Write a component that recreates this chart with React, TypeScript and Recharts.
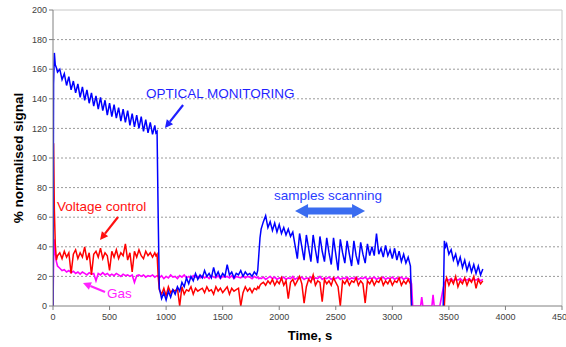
import React from "react";
import { LineChart, Line, XAxis, YAxis, ReferenceLine } from "recharts";

// time, s (shared by the three traces)
const time = [
  0, 5, 12, 20, 30, 40,
  60, 80, 100, 120, 140, 160, 180, 200, 220, 240,
  260, 280, 300, 320, 340, 360, 380, 400, 420, 440,
  460, 480, 500, 520, 540, 560, 580, 600, 620, 640,
  660, 680, 700, 720, 740, 760, 780, 800, 820, 840,
  860, 880, 900, 910, 920, 930,
  940, 960, 980, 1000, 1020, 1040, 1060, 1080, 1100, 1120,
  1140, 1160, 1180, 1200, 1220, 1240, 1260, 1280, 1300, 1320,
  1340, 1360, 1380, 1400, 1420, 1440, 1460, 1480, 1500, 1520,
  1540, 1560, 1580, 1600, 1620, 1640, 1660, 1680, 1700, 1720,
  1740, 1760, 1780, 1800, 1810, 1820, 1830,
  1840, 1860, 1880, 1900, 1920, 1940, 1960, 1980, 2000, 2020,
  2040, 2060, 2080, 2100, 2120, 2140, 2160, 2180, 2200, 2220,
  2240, 2260, 2280, 2300, 2320, 2340, 2360, 2380, 2400, 2420,
  2440, 2460, 2480, 2500, 2520, 2540, 2560, 2580, 2600, 2620,
  2640, 2660, 2680, 2700, 2720, 2740, 2760, 2780, 2800, 2820,
  2840, 2860, 2880, 2900, 2920, 2940, 2960, 2980, 3000, 3020,
  3040, 3060, 3080, 3100, 3120, 3140, 3160,
  3170, 3180, 3250, 3260, 3270, 3350, 3360, 3370, 3420, 3440, 3450,
  3460, 3470, 3480, 3500, 3520, 3540, 3560, 3580, 3600, 3620,
  3640, 3660, 3680, 3700, 3720, 3740, 3760, 3780, 3800,
];

// optical monitoring (blue)
const optical = [
  0, 150, 171, 163, 161, 158,
  160, 153, 157, 149, 155, 146, 152, 144, 150, 141,
  148, 139, 146, 137, 144, 135, 142, 133, 141, 132,
  139, 129, 137, 128, 136, 127, 134, 125, 133, 124,
  132, 122, 130, 121, 129, 120, 128, 118, 126, 117,
  124, 116, 122, 117, 118, 60,
  12, 5, 9, 4, 10, 6, 11, 8, 13, 10,
  16, 13, 19, 15, 20, 17, 22, 18, 21, 19,
  24, 20, 22, 19, 26, 20, 23, 19, 22, 20,
  28, 21, 23, 19, 22, 21, 24, 20, 23, 21,
  22, 20, 23, 21, 24, 35, 46,
  52, 57, 61, 53, 57, 51, 56, 50, 55, 49,
  53, 48, 52, 47, 50, 41, 32, 49, 40, 31,
  48, 39, 30, 48, 38, 29, 47, 37, 30, 46,
  36, 28, 46, 35, 24, 45, 36, 29, 44, 35,
  27, 44, 34, 28, 43, 35, 29, 42, 34, 40,
  34, 49, 35, 39, 33, 41, 34, 38, 32, 39,
  31, 37, 30, 35, 29, 33, 27,
  0, null, null, null, null, null, null, null, null, null, 0,
  44, 40, 42, 35, 38, 31, 35, 28, 33, 26,
  31, 24, 29, 23, 28, 22, 27, 21, 25,
];

// voltage control (red)
const voltage = [
  0, 110, 65, 42, 31, 34,
  36, 32, 37, 33, 36, 22, 35, 38, 32, 36,
  33, 40, 31, 36, 21, 35, 37, 33, 39, 32,
  36, 34, 24, 37, 33, 38, 32, 36, 34, 42,
  31, 36, 23, 37, 33, 38, 34, 32, 37, 34,
  36, 33, 36, 34, 35, 20,
  11, 8, 12, 7, 13, 9, 11, 10, 12, 0,
  13, 8, 11, 10, 13, 8, 12, 10, 11, 12,
  9, 13, 10, 11, 8, 13, 10, 12, 9, 11,
  13, 8, 12, 10, 11, 12, 0, 9, 13, 10,
  12, 9, 12, 11, 13, 12, 14,
  15, 16, 14, 17, 15, 18, 14, 17, 15, 19,
  14, 17, 5, 16, 18, 14, 17, 20, 15, 2,
  13, 18, 16, 21, 14, 17, 16, 3, 18, 15,
  17, 14, 19, 16, 13, 0, 17, 15, 18, 14,
  17, 16, 19, 14, 17, 15, 2, 17, 15, 18,
  14, 17, 16, 19, 14, 17, 15, 18, 14, 17,
  16, 19, 14, 17, 15, 18, 15,
  0, null, null, null, null, null, null, null, null, null, null,
  0, 16, 19, 14, 18, 15, 20, 13, 17, 15,
  19, 14, 18, 16, 20, 12, 18, 15, 17,
];

// gas (magenta)
const gas = [
  0, 30, 45, 36, 30, 27,
  25.5, 24, 24.5, 23, 24, 22.5, 23.5, 22, 23, 21.5,
  23, 22, 21, 22.5, 21.5, 22, 17, 22, 21, 22.5,
  21, 22, 20.5, 21.5, 20.5, 22, 21, 20, 21.5, 20.5,
  21, 20, 21, 16, 20.5, 21, 20, 21, 19.5, 20.5,
  20, 21, 19.5, 20, 20.5, 20,
  19, 20.5, 18.5, 20, 19, 21, 19.5, 20, 18.5, 20.5,
  19.5, 21, 19, 20, 18.5, 20.5, 19.5, 20, 19, 20.5,
  19, 20, 18.5, 20.5, 19.5, 19, 20.5, 18.5, 20, 19.5,
  20, 19, 20.5, 18.5, 20, 19.5, 19, 20.5, 19, 20,
  19.5, 18.5, 20, 19, 19.5, 18.5, 19,
  18.5, 19.5, 18, 19, 20, 18.5, 19.5, 18, 19, 18.5,
  19.5, 18, 19, 18.5, 20, 18, 19, 18.5, 19.5, 18,
  19, 18.5, 19.5, 18, 19, 18.5, 20, 18, 19, 18.5,
  19.5, 18, 19, 18.5, 19.5, 18, 19, 18.5, 19.5, 18,
  19, 18.5, 19.5, 18, 19, 18.5, 19.5, 18, 19, 18.5,
  19.5, 18, 19, 18.5, 19.5, 18, 19, 18.5, 19.5, 18,
  19, 18.5, 19.5, 18, 19, 18.5, 18,
  15, 0, 0, 6, 0, 0, 7.5, 0, 0, 8, 12,
  15, 17, 18, 17.5, 18.5, 17, 18, 17.5, 18.5, 17,
  18, 17.5, 18.5, 17, 18, 17.5, 18.5, 17, 18,
];

const xTicks = [0, 500, 1000, 1500, 2000, 2500, 3000, 3500, 4000, 4500];
const yTicks = [0, 20, 40, 60, 80, 100, 120, 140, 160, 180, 200];
const gridValues = [20, 40, 60, 80, 100, 120, 140, 160, 180];

const data = time.map((t, i) => ({ t, optical: optical[i], voltage: voltage[i], gas: gas[i] }));

const W = 566;
const H = 347;
const M = { top: 10, right: 4, left: 0, bottom: 0 };
const Y_AXIS_W = 53;
const X_AXIS_H = 41;
const X_MAX = 4500;
const Y_MAX = 200;

// same linear mapping the chart uses for its plot area
const left = M.left + Y_AXIS_W;
const right = W - M.right;
const top = M.top;
const bottom = H - M.bottom - X_AXIS_H;
const sx = (t: number) => left + (t / X_MAX) * (right - left);
const sy = (v: number) => bottom - (v / Y_MAX) * (bottom - top);

const font = "'Liberation Sans', Arial, sans-serif";

function Arrow({ x1, y1, x2, y2, color }: { x1: number; y1: number; x2: number; y2: number; color: string }) {
  const ax = sx(x1), ay = sy(y1), bx = sx(x2), by = sy(y2);
  const ang = Math.atan2(by - ay, bx - ax);
  const len = 8, half = 4;
  const cx = bx - len * Math.cos(ang), cy = by - len * Math.sin(ang);
  const px = -Math.sin(ang) * half, py = Math.cos(ang) * half;
  return (
    <g>
      <line x1={ax} y1={ay} x2={cx} y2={cy} stroke={color} strokeWidth={2.2} />
      <polygon points={`${bx},${by} ${cx + px},${cy + py} ${cx - px},${cy - py}`} fill={color} />
    </g>
  );
}

function DoubleArrow({ t1, t2, v, color }: { t1: number; t2: number; v: number; color: string }) {
  const a = sx(t1), b = sx(t2), y = sy(v);
  const head = 13, body = 3.5, wing = 7;
  const pts = [
    [a, y], [a + head, y - wing], [a + head, y - body], [b - head, y - body], [b - head, y - wing],
    [b, y], [b - head, y + wing], [b - head, y + body], [a + head, y + body], [a + head, y + wing],
  ].map((p) => p.join(",")).join(" ");
  return <polygon points={pts} fill={color} />;
}

function Annotations() {
  return (
    <svg width={W} height={H} style={{ position: "absolute", left: 0, top: 0, pointerEvents: "none" }}>
      <text x={sx(822)} y={sy(140.5)} fill="#1f1fff" fontSize={13.5} fontFamily={font}>OPTICAL MONITORING</text>
      <Arrow x1={1150} y1={135.8} x2={990} y2={120.3} color="#1f1fff" />

      <text x={sx(35)} y={sy(64.2)} fill="#ff1010" fontSize={13.5} fontFamily={font}>Voltage control</text>
      <Arrow x1={575} y1={60.1} x2={416} y2={44.6} color="#ff1010" />

      <text x={sx(478)} y={sy(5.4)} fill="#ff22ff" fontSize={13.5} fontFamily={font}>Gas</text>
      <Arrow x1={460} y1={9.5} x2={265} y2={15.5} color="#ff22ff" />

      <text x={sx(1954)} y={sy(71.6)} fill="#2a3cff" fontSize={13.5} fontFamily={font}>samples scanning</text>
      <DoubleArrow t1={2140} t2={2759} v={64.2} color="#3a6cf0" />

      <text x={310} y={340} textAnchor="middle" fontSize={13} fontWeight="bold" fontFamily={font} fill="#000">Time, s</text>
      <text
        x={19}
        y={158}
        textAnchor="middle"
        fontSize={13.5}
        fontWeight="bold"
        fontFamily={font}
        fill="#000"
        transform="rotate(-90 19 158)"
        dominantBaseline="middle"
      >
        %  normalised signal
      </text>
    </svg>
  );
}

const tickStyle = { fill: "#404040", fontSize: 9, fontFamily: font };

export default function App() {
  return (
    <div style={{ position: "absolute", left: 0, top: 0, width: W, height: H, background: "#fff" }}>
      <LineChart width={W} height={H} data={data} margin={M}>
        {gridValues.map((v) => (
          <ReferenceLine key={v} y={v} stroke="#9a9a9a" strokeDasharray="2 2" />
        ))}
        <ReferenceLine y={200} stroke="#c8c8c8" />
        <ReferenceLine x={4500} stroke="#c8c8c8" />
        <XAxis
          dataKey="t"
          type="number"
          domain={[0, X_MAX]}
          ticks={xTicks}
          interval={0}
          height={X_AXIS_H}
          tick={tickStyle}
          tickSize={4}
          tickMargin={4}
          stroke="#808080"
          allowDataOverflow
        />
        <YAxis
          type="number"
          domain={[0, Y_MAX]}
          ticks={yTicks}
          interval={0}
          width={Y_AXIS_W}
          tick={tickStyle}
          tickSize={4}
          tickMargin={2}
          stroke="#808080"
          allowDataOverflow
        />
        <Line type="linear" dataKey="gas" stroke="#ff00ff" strokeWidth={1.6} dot={false} isAnimationActive={false} />
        <Line type="linear" dataKey="voltage" stroke="#ff0000" strokeWidth={1.5} dot={false} isAnimationActive={false} />
        <Line type="linear" dataKey="optical" stroke="#0000ff" strokeWidth={1.5} dot={false} isAnimationActive={false} />
      </LineChart>
      <Annotations />
    </div>
  );
}
